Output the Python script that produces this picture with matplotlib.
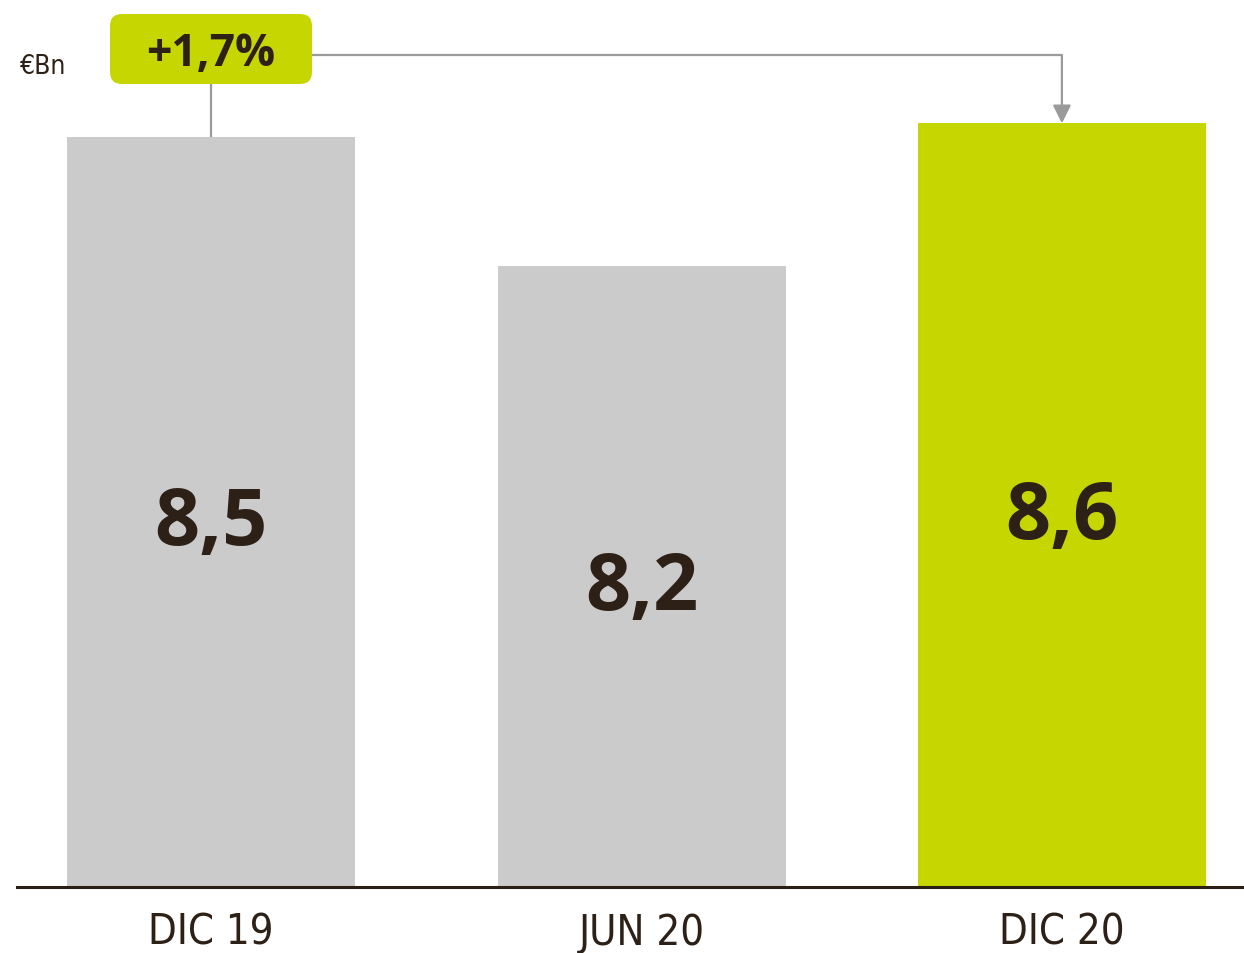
import matplotlib
matplotlib.use("Agg")
import matplotlib.pyplot as plt
from matplotlib.patches import FancyBboxPatch
from matplotlib import font_manager

# ---- data ----
categories = ["DIC 19", "JUN 20", "DIC 20"]
values = [8.53, 8.15, 8.57]            # estimated underlying amounts (€Bn)
value_labels = ["8,5", "8,2", "8,6"]
change_label = "+1,7%"
unit_label = "€Bn"

# ---- styles ----
GRAY = "#cbcbcb"
GREEN = "#c5d600"
DARK = "#2d2117"
LINE = "#9a9a9a"
bar_colors = [GRAY, GRAY, GREEN]
positions = [0, 1.0135, 2]

names = {f.name for f in font_manager.fontManager.ttflist}
boldfont = "Open Sans" if "Open Sans" in names else "DejaVu Sans"
condensed = dict(family="DejaVu Sans", fontstretch="condensed")

fig = plt.figure(figsize=(12.44, 9.54), dpi=100)
ax = fig.add_axes([17 / 1244, 66 / 954, 1 - 17 / 1244, 888 / 954])

ax.bar(positions, values, width=0.677, color=bar_colors, zorder=2)

ylo = 6.324
yhi = ylo + 888 / 340
ax.set_ylim(ylo, yhi)
ax.set_xlim(-0.456, 2.428)

for xi, v, lab in zip(positions, values, value_labels):
    ax.text(xi, (ylo + v) / 2 - 0.035, lab, ha="center", va="center",
            fontsize=57, fontweight="bold", color=DARK, family=boldfont, zorder=3)

ax.set_xticks(positions)
ax.set_xticklabels(categories, fontsize=30, color=DARK, **condensed)
ax.tick_params(axis="x", length=0, pad=17)
ax.set_yticks([])
for s in ["top", "left", "right"]:
    ax.spines[s].set_visible(False)
ax.spines["bottom"].set_color("#2b1f14")
ax.spines["bottom"].set_linewidth(2.2)

# ---- change annotation ----
px_x = 1 / 425.5   # data units per pixel (x)
px_y = 1 / 340     # data units per pixel (y)
box_cy = yhi - 50 * px_y
box_w = 202 * px_x
box_h = 70 * px_y
aspect = px_y / px_x
box = FancyBboxPatch((positions[0] - box_w / 2, box_cy - box_h / 2), box_w, box_h,
                     boxstyle="round,pad=0,rounding_size=%f" % (12 * px_x),
                     mutation_aspect=aspect, facecolor=GREEN, edgecolor="none",
                     zorder=4, clip_on=False)
ax.add_patch(box)
ax.text(positions[0], box_cy - 5 * px_y, change_label, ha="center", va="center",
        fontsize=32, fontweight="bold", color=DARK, family=boldfont, zorder=5)

# connector from box to first bar
ax.plot([positions[0], positions[0]], [box_cy - box_h / 2, values[0]],
        color=LINE, lw=1.6, zorder=1)
# horizontal connector to last bar
line_y = yhi - 56 * px_y
ax.plot([positions[0] + box_w / 2, positions[2]], [line_y, line_y], color=LINE,
        lw=1.6, zorder=1, solid_capstyle="butt")
ax.annotate("", xy=(positions[2], values[2]), xytext=(positions[2], line_y),
            arrowprops=dict(arrowstyle="-|>,head_length=1.1,head_width=0.55",
                            color=LINE, lw=1.6, shrinkA=0, shrinkB=0), zorder=1)

fig.text(20 / 1244, 1 - 67 / 954, unit_label, ha="left", va="center",
         fontsize=19, color=DARK, **condensed)

fig.savefig("out.png", dpi=100)
